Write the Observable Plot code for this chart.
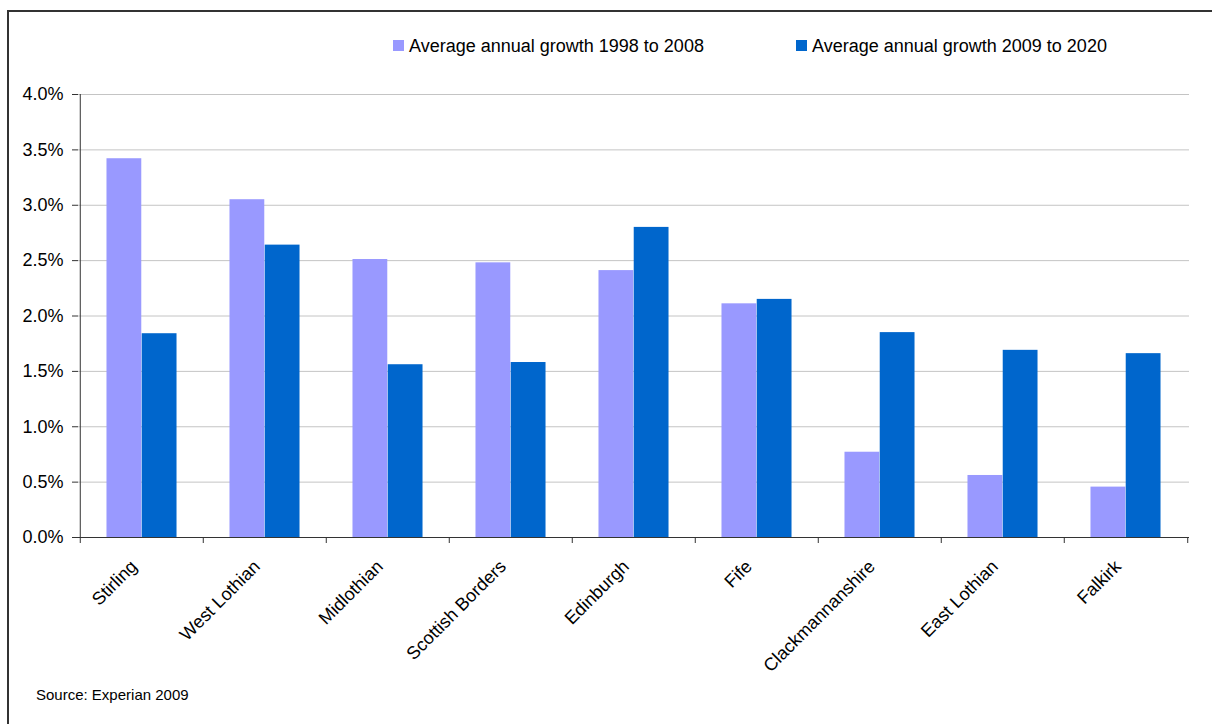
<!DOCTYPE html>
<html>
<head>
<meta charset="utf-8">
<script src="https://cdn.jsdelivr.net/npm/d3@7"></script>
<script src="https://cdn.jsdelivr.net/npm/@observablehq/plot@0.6"></script>
<style>
  html, body { margin: 0; padding: 0; background: #fff; overflow: hidden; width: 1212px; height: 724px; }
  body { position: relative; font-family: "Liberation Sans", Arial, sans-serif; color: #000; }
  #frame { position: absolute; left: 7px; top: 10px; width: 1300px; height: 800px; border: 2px solid #333; box-sizing: border-box; }
  #chart { position: absolute; left: 0; top: 70px; }
  .key { position: absolute; top: 37px; font-size: 18px; line-height: 18px; white-space: nowrap; }
  .swatch { position: absolute; top: 40px; width: 11px; height: 11px; }
  #source { position: absolute; left: 36px; top: 687px; font-size: 15px; line-height: 15px; }
</style>
</head>
<body>
<div id="frame"></div>
<div id="legend"></div>
<div id="chart"></div>
<div id="source">Source: Experian 2009</div>
<script>
// Regions and average annual growth rates (as fractions)
const regions = ["Stirling", "West Lothian", "Midlothian", "Scottish Borders", "Edinburgh", "Fife", "Clackmannanshire", "East Lothian", "Falkirk"];
const growth1998to2008 = [0.0342, 0.0305, 0.0251, 0.0248, 0.0241, 0.0211, 0.0077, 0.0056, 0.00455];
const growth2009to2020 = [0.0184, 0.0264, 0.0156, 0.0158, 0.0280, 0.0215, 0.0185, 0.0169, 0.0166];
const seriesLabels = ["Average annual growth 1998 to 2008", "Average annual growth 2009 to 2020"];
const seriesColors = ["#9999FF", "#0066CC"];
const yTicks = [0, 0.005, 0.01, 0.015, 0.02, 0.025, 0.03, 0.035, 0.04];

// Legend
const legend = document.getElementById("legend");
const legendX = [393, 796];
seriesLabels.forEach((label, i) => {
  const sw = document.createElement("div");
  sw.className = "swatch";
  sw.style.left = legendX[i] + "px";
  sw.style.background = seriesColors[i];
  legend.appendChild(sw);
  const t = document.createElement("div");
  t.className = "key";
  t.style.left = (legendX[i] + 16) + "px";
  t.textContent = label;
  legend.appendChild(t);
});

// Chart
const W = 1212, H = 620, mL = 78, mR = 23, mT = 24, mB = 153;
const bw = (W - mL - mR) / regions.length;     // width of one region's band
const barW = bw * 0.2855;                       // width of each bar
const gap = (bw - 2 * barW) / 2;                // space either side of a pair

const rows = regions.map((region, i) => ({region, early: growth1998to2008[i], late: growth2009to2020[i]}));

const chart = Plot.plot({
  width: W,
  height: H,
  marginLeft: mL,
  marginRight: mR,
  marginTop: mT,
  marginBottom: mB,
  style: {fontFamily: "'Liberation Sans', Arial, sans-serif", fontSize: "18px", color: "#000", background: "transparent"},
  x: {domain: regions, padding: 0, label: null},
  y: {domain: [0, 0.04], label: null},
  marks: [
    Plot.gridY(yTicks, {stroke: "#c4c4c4", strokeOpacity: 1}),
    Plot.barY(rows, {x: "region", y: "early", fill: seriesColors[0], insetLeft: gap, insetRight: gap + barW}),
    Plot.barY(rows, {x: "region", y: "late", fill: seriesColors[1], insetLeft: gap + barW, insetRight: gap}),
    Plot.ruleY([0], {stroke: "#333"}),
    Plot.ruleX([regions[0]], {dx: -bw / 2, stroke: "#333"}),
    Plot.axisY({ticks: yTicks, tickFormat: d3.format(".1%"), tickSize: 6, tickPadding: 9, fontSize: 18, stroke: "#333", label: null}),
    Plot.axisX({ticks: regions, tickSize: 6, tickFormat: () => "", dx: -bw / 2, stroke: "#333", label: null}),
    Plot.axisX({ticks: [regions[regions.length - 1]], tickSize: 6, tickFormat: () => "", dx: bw / 2, stroke: "#333", label: null}),
    Plot.axisX({tickSize: 0, tickRotate: -45, tickPadding: 26, dx: -8, fontSize: 18, label: null})
  ]
});
document.getElementById("chart").appendChild(chart);
</script>
</body>
</html>
